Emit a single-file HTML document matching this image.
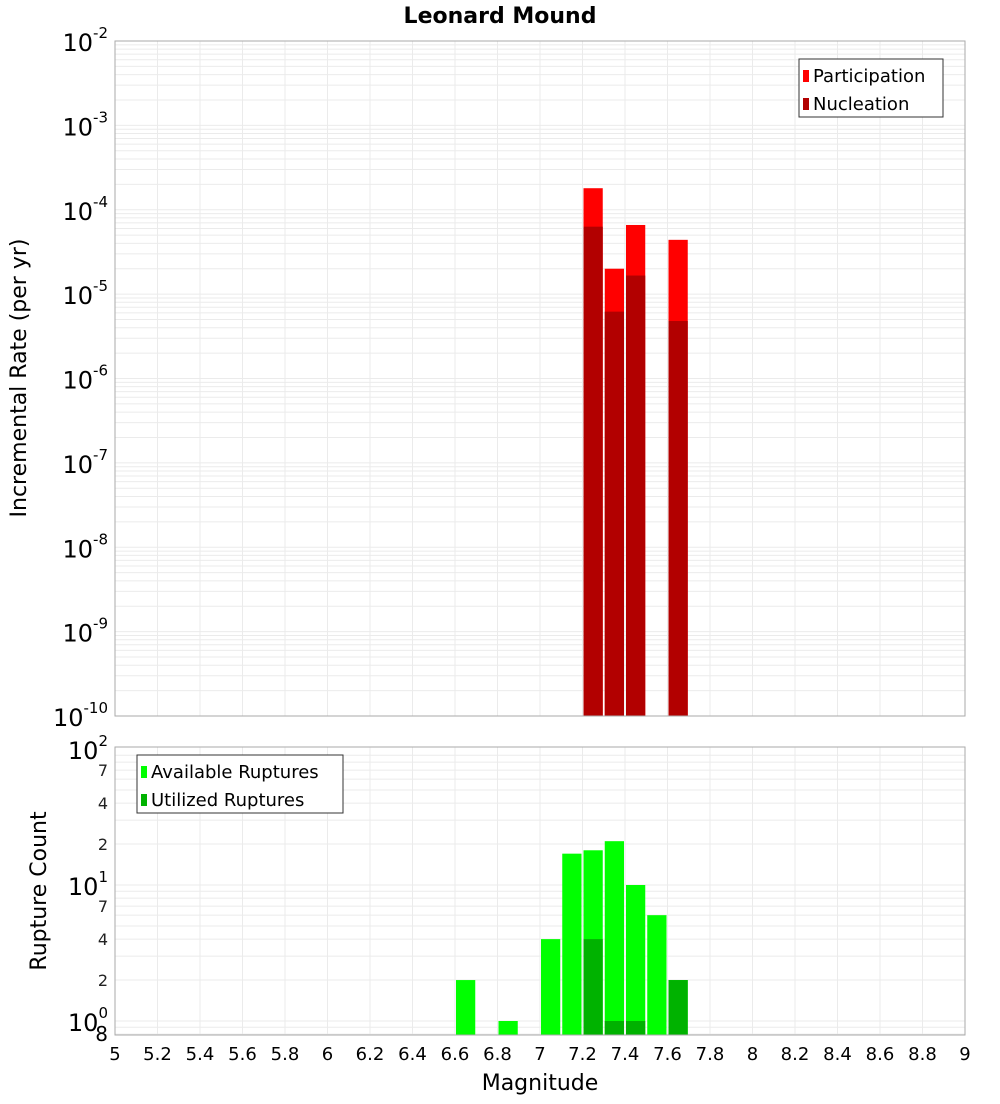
<!DOCTYPE html>
<html><head><meta charset="utf-8"><style>
body{margin:0;background:#fff;font-family:"DejaVu Sans","Liberation Sans",sans-serif}
</style></head><body>
<svg id="c" width="1000" height="1100" xmlns="http://www.w3.org/2000/svg" font-family="DejaVu Sans, Liberation Sans, sans-serif"></svg>
<script>
const topBins=[7.25,7.35,7.45,7.65];
const participation=[1.8e-4,2.0e-5,6.6e-5,4.4e-5];
const nucleation=[6.3e-5,6.2e-6,1.66e-5,4.8e-6];
const botBins=[6.65,6.85,7.05,7.15,7.25,7.35,7.45,7.55,7.65];
const available=[2,1,4,17,18,21,10,6,2];
const utilBins=[7.25,7.35,7.45,7.65];
const utilized=[4,1,1,2];
const xTicks=[5,5.2,5.4,5.6,5.8,6,6.2,6.4,6.6,6.8,7,7.2,7.4,7.6,7.8,8,8.2,8.4,8.6,8.8,9];
const topExps=[-2,-3,-4,-5,-6,-7,-8,-9,-10];
const botMinor=[2,4,7];

const svg=document.getElementById('c');const NS='http://www.w3.org/2000/svg';
function el(t,a,p){const e=document.createElementNS(NS,t);for(const k in a)e.setAttribute(k,a[k]);(p||svg).appendChild(e);return e;}
const L=115,R=965;
const X=m=>L+(m-5)/4*(R-L);
const T0=41,T1=716;
const YT=v=>T0+(-2-Math.log10(v))/8*(T1-T0);
const B0=747,B1=1035;
const YB=v=>885-(Math.log10(v)-1)*136;

// title
let t=el('text',{x:500,y:23,'text-anchor':'middle','font-size':22,'font-weight':'bold'});t.textContent='Leonard Mound';


// top grid
const gT=el('g',{stroke:'#ebebeb','stroke-width':1});

for(let e=-10;e<-2;e++)for(let k=1;k<10;k++){const y=YT(k*Math.pow(10,e));if(y>T0&&y<T1)el('line',{x1:L,x2:R,y1:y,y2:y},gT);}
xTicks.forEach(m=>el('line',{x1:X(m),x2:X(m),y1:T0,y2:T1},gT));
// bottom grid
const gB=el('g',{stroke:'#ebebeb','stroke-width':1});

for(let e=-1;e<2;e++)for(let k=1;k<10;k++){const y=YB(k*Math.pow(10,e));if(y>B0&&y<B1)el('line',{x1:L,x2:R,y1:y,y2:y},gB);}
xTicks.forEach(m=>el('line',{x1:X(m),x2:X(m),y1:B0,y2:B1},gB));

// top bars
const bw=X(5.1)-X(5);
topBins.forEach((m,i)=>{
 let r=el('rect',{x:X(m)-bw/2+1,y:YT(participation[i]),width:bw-2,height:T1-YT(participation[i]),fill:'#ff0000'});
 
 r=el('rect',{x:X(m)-bw/2+1,y:YT(nucleation[i]),width:bw-2,height:T1-YT(nucleation[i]),fill:'#b20000'});
 
});
// bottom bars
botBins.forEach((m,i)=>{
 const y=YB(available[i]);
 const r=el('rect',{x:X(m)-bw/2+1,y:y,width:bw-2,height:B1-y,fill:'#00ff00'});
 
});
utilBins.forEach((m,i)=>{
 const y=YB(utilized[i]);
 const r=el('rect',{x:X(m)-bw/2+1,y:y,width:bw-2,height:B1-y,fill:'#00b200'});
 
});

// frames
let f=el('rect',{x:L,y:T0,width:R-L,height:T1-T0,fill:'none',stroke:'#aaa'});

f=el('rect',{x:L,y:B0,width:R-L,height:B1-B0,fill:'none',stroke:'#aaa'});


// top y labels
topExps.forEach(e=>{
 const y=YT(Math.pow(10,e));
 const tx=el('text',{x:108,y:y+10,'text-anchor':'end','font-size':24});
 
 tx.innerHTML='10<tspan dy="-13" font-size="15">'+e+'</tspan>';
});
// bottom y labels
[[100,'2'],[10,'1'],[1,'0']].forEach(([v,e])=>{
 const y=YB(v);
 const tx=el('text',{x:108,y:y+10,'text-anchor':'end','font-size':24});
 
 tx.innerHTML='10<tspan dy="-13" font-size="15">'+e+'</tspan>';
});
[10,1].forEach(d=>botMinor.forEach(k=>{
 const tx=el('text',{x:108,y:YB(k*d)+6,'text-anchor':'end','font-size':16,fill:'#222'});
 
 tx.textContent=k;
}));
t=el('text',{x:108,y:1041,'text-anchor':'end','font-size':20});t.textContent='8';


// x labels
xTicks.forEach(m=>{
 const tx=el('text',{x:X(m),y:1060,'text-anchor':'middle','font-size':18});
 
 tx.textContent=String(m);
});
t=el('text',{x:540,y:1090,'text-anchor':'middle','font-size':22});t.textContent='Magnitude';

t=el('text',{x:0,y:0,'text-anchor':'middle','font-size':22,transform:'translate(26,378) rotate(-90)'});t.textContent='Incremental Rate (per yr)';

t=el('text',{x:0,y:0,'text-anchor':'middle','font-size':22,transform:'translate(46,891) rotate(-90)'});t.textContent='Rupture Count';


// legends
function legend(x,y,w,items,name){
 const g=el('g',{});
 el('rect',{x:x,y:y,width:w,height:58,fill:'#fff',stroke:'#333'},g);
 items.forEach(([c,l],i)=>{
  el('rect',{x:x+4,y:y+11+i*28,width:6,height:12,fill:c},g);
  const tx=el('text',{x:x+14,y:y+23+i*28,'font-size':18},g);tx.textContent=l;
 });
}
legend(799,59,144,[['#ff0000','Participation'],['#b20000','Nucleation']],'top-legend');
legend(137,755,206,[['#00ff00','Available Ruptures'],['#00b200','Utilized Ruptures']],'bottom-legend');
</script>
</body></html>
